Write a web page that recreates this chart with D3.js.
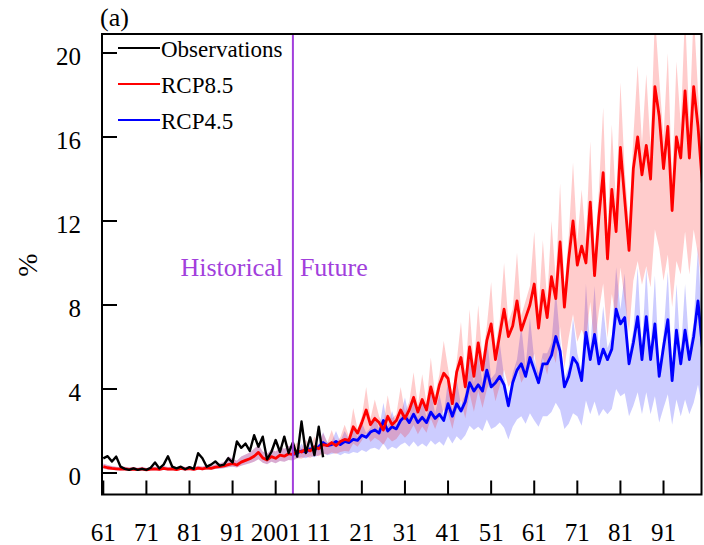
<!DOCTYPE html>
<html>
<head>
<meta charset="utf-8">
<script src="https://cdn.jsdelivr.net/npm/d3@7"></script>
<style>
  html, body { margin: 0; padding: 0; background: #fff; }
  svg { display: block; }
</style>
</head>
<body>
<svg id="chart" width="704" height="545"></svg>
<script>
// ---- data -------------------------------------------------------------
const obsStart = 1961;
const histStart = 1961;
const futureStart = 2006;

// Observed values, 1961-2012 (%)
const observations = [
  0.70, 0.80, 0.55, 0.78, 0.30, 0.20, 0.15, 0.22, 0.15, 0.20,
  0.15, 0.25, 0.50, 0.22, 0.40, 0.80, 0.30, 0.22, 0.30, 0.18,
  0.28, 0.20, 0.94, 0.70, 0.30, 0.40, 0.55, 0.35, 0.40, 0.70,
  0.50, 1.50, 1.20, 1.40, 1.05, 1.80, 1.25, 1.73, 0.65, 1.00,
  1.57, 1.00, 1.73, 0.95, 1.45, 0.78, 2.45, 0.95, 1.70, 0.85,
  2.20, 0.75
];

// Historical ensemble mean and spread, 1961-2005
const histMean = [
  0.30, 0.25, 0.22, 0.20, 0.18, 0.20, 0.17, 0.19, 0.16, 0.20,
  0.15, 0.18, 0.20, 0.17, 0.22, 0.18, 0.20, 0.16, 0.22, 0.18,
  0.21, 0.17, 0.23, 0.20, 0.24, 0.22, 0.28, 0.30, 0.34, 0.40,
  0.45, 0.38, 0.52, 0.60, 0.68, 0.80, 0.98, 0.72, 0.62, 0.78,
  0.70, 0.85, 0.80, 0.92, 0.88
];
const histHigh = [
  0.45, 0.38, 0.33, 0.30, 0.28, 0.30, 0.26, 0.29, 0.25, 0.30,
  0.24, 0.28, 0.30, 0.26, 0.33, 0.28, 0.30, 0.25, 0.33, 0.28,
  0.32, 0.27, 0.35, 0.31, 0.37, 0.34, 0.42, 0.46, 0.52, 0.80,
  0.68, 0.58, 0.78, 0.88, 0.98, 1.15, 1.35, 1.02, 0.92, 1.12,
  1.02, 1.22, 1.15, 1.30, 1.25
];
const histLow = [
  0.20, 0.17, 0.15, 0.13, 0.12, 0.13, 0.11, 0.12, 0.10, 0.13,
  0.10, 0.12, 0.13, 0.11, 0.14, 0.12, 0.13, 0.10, 0.14, 0.12,
  0.14, 0.11, 0.15, 0.13, 0.16, 0.15, 0.19, 0.20, 0.23, 0.27,
  0.30, 0.26, 0.35, 0.40, 0.46, 0.54, 0.66, 0.49, 0.42, 0.53,
  0.47, 0.57, 0.54, 0.62, 0.60
];

// RCP8.5 ensemble mean and spread, 2006-2100
const rcp85Mean = [
  1.05, 1.00, 1.15, 1.05, 1.25, 1.15, 1.35, 1.30, 1.45, 1.30,
  1.50, 1.60, 1.55, 2.20, 1.90, 2.40, 3.00, 2.30, 2.60, 2.40,
  2.05, 2.70, 2.30, 2.50, 3.00, 2.60, 3.00, 3.60, 2.90, 3.50,
  3.00, 4.10, 3.30, 4.20, 4.75, 4.50, 3.30, 4.80, 5.50, 4.10,
  6.00, 4.60, 6.20, 4.90, 6.30, 7.10, 5.40, 6.60, 7.80, 6.50,
  7.00, 8.20, 6.80, 7.40, 8.00, 9.00, 6.90, 8.70, 7.40, 9.35,
  8.30, 11.00, 7.90, 10.20, 12.00, 9.90, 10.80, 10.00, 12.90, 9.40,
  12.20, 14.30, 10.20, 13.50, 11.50, 15.50, 13.00, 10.60, 14.50, 16.00,
  14.20, 15.60, 14.00, 18.40, 17.00, 14.50, 16.50, 12.50, 16.00, 15.00,
  18.20, 15.00, 18.40, 16.50, 13.80
];
const rcp85High = [
  1.45, 1.15, 1.60, 1.20, 1.75, 1.30, 1.90, 1.45, 2.05, 1.45,
  1.70, 2.30, 1.75, 3.10, 2.10, 2.70, 4.10, 2.60, 3.50, 2.70,
  2.30, 3.70, 2.60, 2.80, 4.10, 2.90, 3.40, 4.80, 3.20, 4.70,
  3.35, 5.50, 3.70, 4.70, 6.30, 5.00, 3.70, 5.30, 7.20, 4.60,
  7.80, 5.10, 8.00, 5.40, 7.00, 9.10, 6.00, 7.30, 10.00, 7.20,
  7.80, 10.50, 7.50, 8.20, 8.90, 11.50, 7.70, 11.10, 8.20, 12.00,
  9.20, 13.80, 8.80, 11.30, 14.80, 11.00, 13.50, 11.10, 15.80, 10.40,
  13.50, 17.40, 11.30, 16.60, 12.80, 18.60, 14.40, 11.80, 16.00, 19.40,
  15.70, 19.00, 15.50, 21.80, 18.80, 16.00, 20.00, 13.90, 19.60, 16.60,
  22.00, 16.60, 22.00, 18.20, 15.30
];
const rcp85Low = [
  0.70, 0.68, 0.78, 0.72, 0.85, 0.80, 0.90, 0.88, 0.98, 0.90,
  1.00, 1.05, 1.02, 1.40, 1.25, 1.55, 1.90, 1.48, 1.68, 1.55,
  1.35, 1.72, 1.50, 1.62, 1.90, 1.68, 1.90, 2.28, 1.85, 2.22,
  1.92, 2.60, 2.10, 2.65, 3.00, 2.85, 2.10, 3.02, 3.45, 2.60,
  3.78, 2.92, 3.90, 3.10, 3.98, 4.48, 3.42, 4.16, 4.92, 4.10,
  4.42, 5.17, 4.30, 4.68, 5.05, 5.68, 4.36, 5.48, 4.68, 5.90,
  5.24, 6.95, 5.00, 6.45, 7.56, 6.25, 6.82, 6.32, 8.14, 5.94,
  7.70, 9.02, 6.44, 8.52, 7.26, 9.78, 8.20, 6.70, 9.15, 10.10,
  8.96, 9.84, 8.84, 11.60, 10.70, 9.15, 10.40, 7.90, 10.10, 9.45,
  11.50, 9.45, 11.60, 10.40, 8.70
];

// RCP4.5 ensemble mean and spread, 2006-2100
const rcp45Mean = [
  0.95, 1.05, 1.00, 1.15, 1.10, 1.25, 1.45, 1.30, 1.35, 1.50,
  1.35, 1.50, 1.45, 1.60, 1.55, 1.80, 1.70, 1.95, 2.05, 1.90,
  2.50, 2.00, 2.20, 2.10, 2.50, 2.70, 2.40, 2.80, 2.40, 2.65,
  2.40, 2.90, 2.60, 2.80, 2.50, 3.30, 2.70, 3.30, 2.95, 3.40,
  4.30, 3.90, 4.20, 3.90, 4.90, 4.10, 4.30, 4.60, 4.20, 3.20,
  4.30, 4.90, 5.20, 4.60, 5.50, 4.90, 4.30, 5.20, 5.20, 5.60,
  6.50, 5.80, 4.10, 4.60, 5.50, 5.20, 4.40, 6.70, 5.40, 6.60,
  5.20, 5.90, 5.40, 5.90, 7.80, 7.10, 7.40, 5.20, 6.20, 7.45,
  5.40, 7.45, 5.40, 7.10, 4.60, 6.00, 7.30, 4.40, 6.80, 5.20,
  6.80, 5.40, 6.50, 8.20, 6.00
];
const rcp45High = [
  1.05, 1.40, 1.10, 1.55, 1.22, 1.40, 1.95, 1.45, 1.50, 2.00,
  1.50, 2.00, 1.60, 2.15, 1.72, 2.40, 1.90, 2.15, 2.75, 2.10,
  3.35, 2.20, 2.95, 2.30, 2.75, 3.60, 2.65, 3.75, 2.65, 3.55,
  2.65, 3.90, 2.85, 3.75, 2.75, 4.45, 3.00, 4.45, 3.25, 3.75,
  5.80, 4.30, 5.65, 4.30, 6.60, 4.50, 4.75, 6.20, 4.60, 3.55,
  4.75, 5.40, 7.00, 5.05, 7.40, 5.40, 4.75, 5.70, 5.70, 6.20,
  8.75, 6.40, 4.50, 5.05, 7.40, 5.70, 4.85, 9.00, 5.95, 8.90,
  5.70, 7.95, 5.95, 6.50, 9.80, 7.80, 9.50, 5.70, 6.80, 9.80,
  5.95, 9.80, 5.95, 9.40, 5.05, 6.60, 9.60, 4.85, 9.00, 5.70,
  9.00, 5.95, 7.15, 10.80, 6.60
];
const rcp45Low = [
  0.70, 0.75, 0.70, 0.80, 0.75, 0.85, 0.95, 0.85, 0.90, 0.95,
  0.85, 0.95, 0.90, 1.00, 0.95, 1.10, 1.00, 1.15, 1.20, 1.10,
  1.40, 1.10, 1.25, 1.15, 1.35, 1.45, 1.25, 1.50, 1.25, 1.40,
  1.25, 1.55, 1.35, 1.50, 1.30, 1.75, 1.40, 1.75, 1.55, 1.80,
  2.25, 2.05, 2.20, 2.00, 2.55, 2.10, 2.20, 2.40, 2.15, 1.60,
  2.20, 2.55, 2.70, 2.35, 2.85, 2.50, 2.20, 2.70, 2.70, 2.90,
  3.35, 3.00, 2.10, 2.35, 2.85, 2.70, 2.25, 3.45, 2.80, 3.40,
  2.70, 3.05, 2.80, 3.05, 4.00, 3.65, 3.80, 2.70, 3.20, 3.85,
  2.80, 3.85, 2.80, 3.65, 2.40, 3.10, 3.75, 2.30, 3.50, 2.70,
  3.50, 2.80, 3.35, 4.20, 3.10
];

const splitYear = 2005;
const xTickYears = [1961, 1971, 1981, 1991, 2001, 2011, 2021, 2031, 2041, 2051, 2061, 2071, 2081, 2091];
const xTickLabels = ["61", "71", "81", "91", "2001", "11", "21", "31", "41", "51", "61", "71", "81", "91"];
const yTickValues = [0, 4, 8, 12, 16, 20];
const legendItems = [
  { label: "Observations", color: "#000000" },
  { label: "RCP8.5", color: "#ff0000" },
  { label: "RCP4.5", color: "#0000ff" }
];

// ---- layout -----------------------------------------------------------
const FONT = "'Liberation Serif', 'Times New Roman', serif";
const PURPLE = "#a23fdc";
const frame = { left: 102, right: 701.5, top: 34, bottom: 494.5 };

const x = d3.scaleLinear().domain([1961, 2100]).range([103.3, 702.3]);
const y = d3.scaleLinear().domain([0, 20]).range([473, 53]);

const svg = d3.select("#chart");

svg.append("defs").append("clipPath").attr("id", "plot-clip")
  .append("rect")
  .attr("x", frame.left).attr("y", frame.top)
  .attr("width", frame.right - frame.left).attr("height", frame.bottom - frame.top);

// helpers to turn arrays into {year, v} rows
const toSeries = (start, arr) => arr.map((v, i) => ({ year: start + i, v }));
const toBand = (start, lo, hi) => lo.map((l, i) => ({ year: start + i, lo: l, hi: hi[i] }));

const lastHist = histMean.length - 1;
const histSeries = toSeries(histStart, histMean);
const histBand = toBand(histStart, histLow, histHigh);
const joinBand = { year: splitYear, lo: histLow[lastHist], hi: histHigh[lastHist] };
const joinMean = { year: splitYear, v: histMean[lastHist] };

const rcp85Band = [joinBand].concat(toBand(futureStart, rcp85Low, rcp85High));
const rcp45Band = [joinBand].concat(toBand(futureStart, rcp45Low, rcp45High));
const rcp85Line = histSeries.concat(toSeries(futureStart, rcp85Mean));
const rcp45Line = [joinMean].concat(toSeries(futureStart, rcp45Mean));
const obsLine = toSeries(obsStart, observations);

const area = d3.area().x(d => x(d.year)).y0(d => y(d.lo)).y1(d => y(d.hi));
const line = d3.line().x(d => x(d.year)).y(d => y(d.v));

const plot = svg.append("g").attr("clip-path", "url(#plot-clip)");

// spread bands
plot.append("path").datum(rcp45Band).attr("d", area)
  .attr("fill", "#0000ff").attr("fill-opacity", 0.2);
plot.append("path").datum(rcp85Band).attr("d", area)
  .attr("fill", "#ff0000").attr("fill-opacity", 0.2);
plot.append("path").datum(histBand).attr("d", area)
  .attr("fill", "#0000ff").attr("fill-opacity", 0.18);
plot.append("path").datum(histBand).attr("d", area)
  .attr("fill", "#ff0000").attr("fill-opacity", 0.18);

// ensemble means
plot.append("path").datum(rcp45Line).attr("d", line)
  .attr("fill", "none").attr("stroke", "#0000ff").attr("stroke-width", 2.8)
  .attr("stroke-linejoin", "round");
plot.append("path").datum(rcp85Line).attr("d", line)
  .attr("fill", "none").attr("stroke", "#ff0000").attr("stroke-width", 2.8)
  .attr("stroke-linejoin", "round");

// observations
plot.append("path").datum(obsLine).attr("d", line)
  .attr("fill", "none").attr("stroke", "#000").attr("stroke-width", 2.4)
  .attr("stroke-linejoin", "round");

// historical / future divider
svg.append("line")
  .attr("x1", x(splitYear)).attr("x2", x(splitYear))
  .attr("y1", frame.top).attr("y2", frame.bottom)
  .attr("stroke", PURPLE).attr("stroke-width", 2);

svg.append("text").attr("x", x(splitYear) - 10).attr("y", 276)
  .attr("text-anchor", "end").attr("font-family", FONT).attr("font-size", 26)
  .attr("fill", PURPLE).text("Historical");
svg.append("text").attr("x", x(splitYear) + 7).attr("y", 276)
  .attr("text-anchor", "start").attr("font-family", FONT).attr("font-size", 26)
  .attr("fill", PURPLE).text("Future");

// frame
svg.append("rect")
  .attr("x", frame.left).attr("y", frame.top)
  .attr("width", frame.right - frame.left).attr("height", frame.bottom - frame.top)
  .attr("fill", "none").attr("stroke", "#000").attr("stroke-width", 2);

// y axis: inward ticks, labels on the left
const yAxis = svg.append("g");
yAxis.selectAll("line").data(yTickValues).join("line")
  .attr("x1", frame.left).attr("x2", frame.left + 15)
  .attr("y1", d => y(d)).attr("y2", d => y(d))
  .attr("stroke", "#000").attr("stroke-width", 2);
yAxis.selectAll("text").data(yTickValues).join("text")
  .attr("x", 81).attr("y", d => y(d) + 12)
  .attr("text-anchor", "end").attr("font-family", FONT).attr("font-size", 25)
  .text(d => d);

// x axis: inward ticks, labels below
const xAxis = svg.append("g");
xAxis.selectAll("line").data(xTickYears).join("line")
  .attr("x1", d => x(d)).attr("x2", d => x(d))
  .attr("y1", frame.bottom).attr("y2", frame.bottom - 14)
  .attr("stroke", "#000").attr("stroke-width", 2);
xAxis.selectAll("text").data(xTickYears).join("text")
  .attr("x", d => x(d)).attr("y", 541)
  .attr("text-anchor", "middle").attr("font-family", FONT).attr("font-size", 25)
  .text((d, i) => xTickLabels[i]);

// axis title
svg.append("text")
  .attr("transform", "translate(37,265) rotate(-90)")
  .attr("text-anchor", "middle").attr("font-family", FONT).attr("font-size", 28)
  .text("%");

// panel tag
svg.append("text").attr("x", 100).attr("y", 26)
  .attr("font-family", FONT).attr("font-size", 26).text("(a)");

// legend
const legend = svg.append("g");
legendItems.forEach((item, i) => {
  const ly = 48 + i * 36;
  legend.append("line")
    .attr("x1", 118).attr("x2", 160).attr("y1", ly).attr("y2", ly)
    .attr("stroke", item.color).attr("stroke-width", 2);
  legend.append("text")
    .attr("x", 161).attr("y", ly + 9)
    .attr("font-family", FONT).attr("font-size", 23)
    .text(item.label);
});
</script>
</body>
</html>
